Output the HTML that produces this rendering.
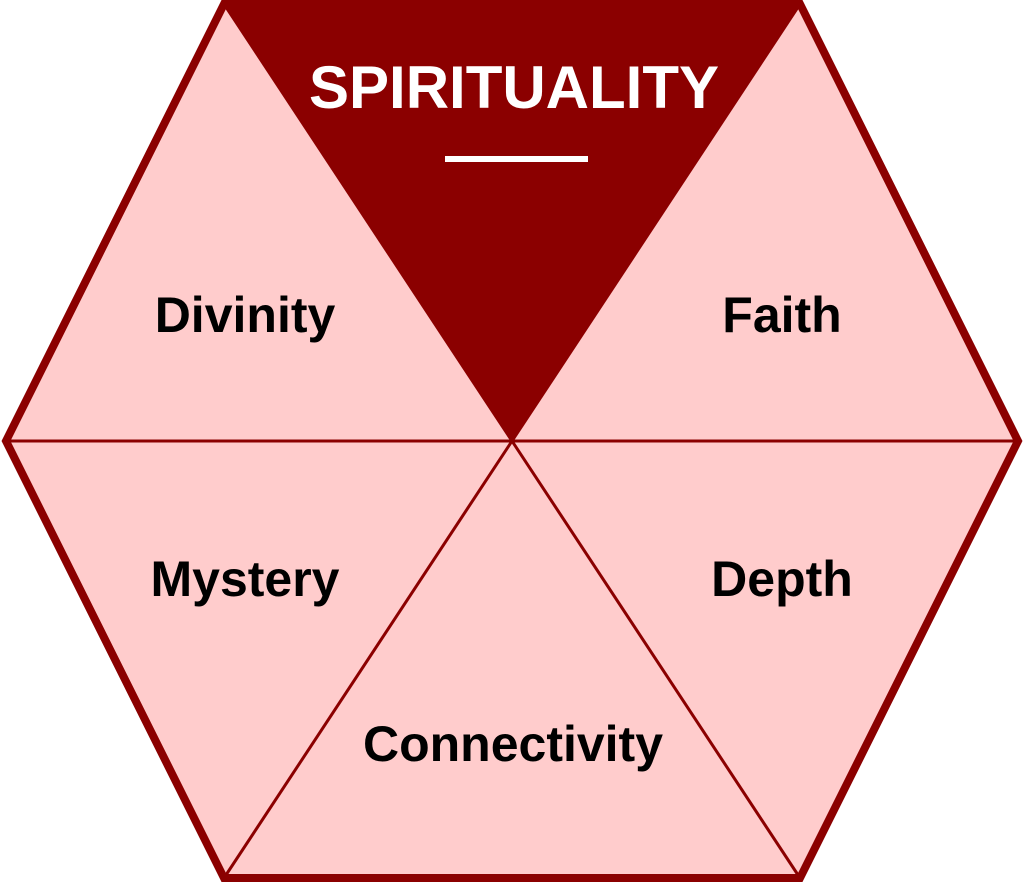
<!DOCTYPE html>
<html><head><style>
html,body{margin:0;padding:0;background:#fff;}
svg{display:block;}
text{font-family:"Liberation Sans",sans-serif;font-weight:bold;}
</style></head><body>
<svg width="1024" height="883" viewBox="0 0 1024 883">
<polygon points="224,4 800,4 1018,441 800,878 224,878 6,441" fill="#FFCCCC"/>
<polygon points="224,4 800,4 512,441" fill="#8B0000"/>
<g stroke="#8B0000" stroke-width="3">
<line x1="6" y1="441" x2="1018" y2="441"/>
<line x1="224" y1="4" x2="800" y2="878"/>
<line x1="800" y1="4" x2="224" y2="878"/>
</g>
<polygon points="224,4 800,4 1018,441 800,878 224,878 6,441" fill="none" stroke="#8B0000" stroke-width="8" stroke-linejoin="miter"/>
<text x="514" y="108" font-size="60" fill="#fff" text-anchor="middle">SPIRITUALITY</text>
<rect x="445" y="156" width="143" height="6" fill="#fff"/>
<g font-size="50" fill="#000" text-anchor="middle">
<text x="245" y="332">Divinity</text>
<text x="782" y="332">Faith</text>
<text x="245" y="596">Mystery</text>
<text x="782" y="596">Depth</text>
<text x="513" y="761">Connectivity</text>
</g>
</svg>
</body></html>
